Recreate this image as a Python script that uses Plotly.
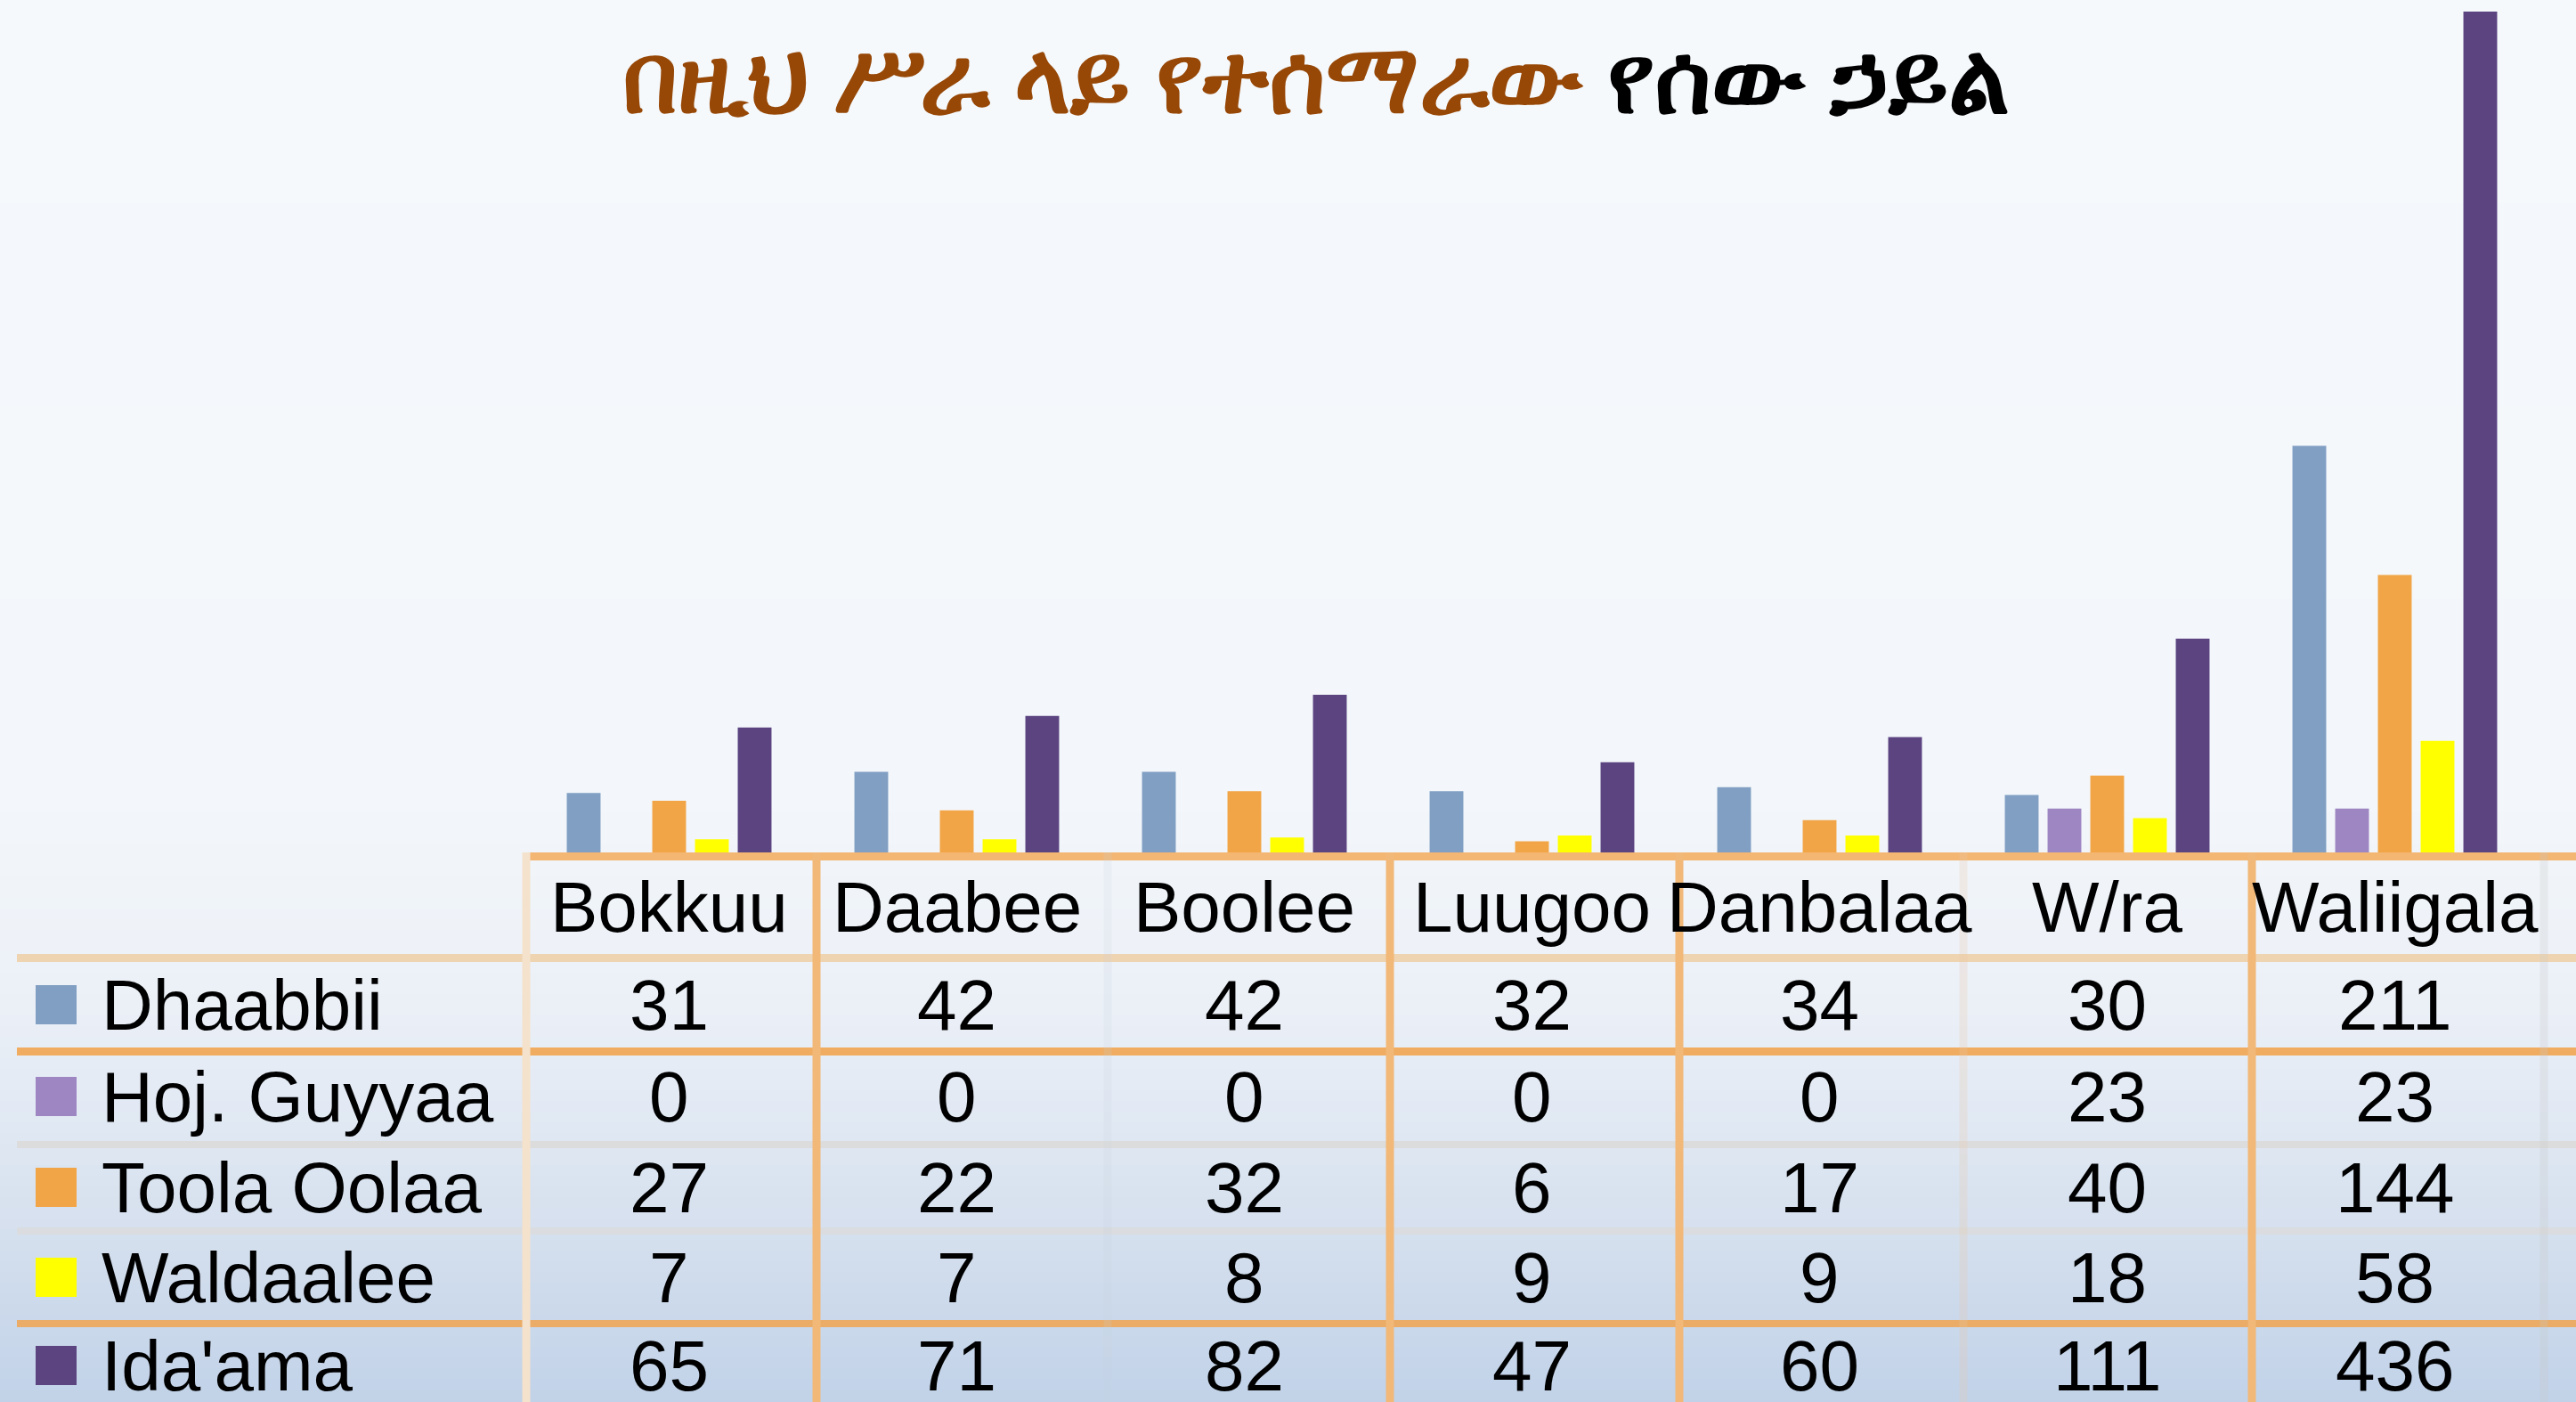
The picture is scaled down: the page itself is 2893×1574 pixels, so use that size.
import plotly.graph_objects as go

# ---------------- data ----------------
categories = ["Bokkuu", "Daabee", "Boolee", "Luugoo", "Danbalaa", "W/ra", "Waliigala"]
series_names = ["Dhaabbii", "Hoj. Guyyaa", "Toola Oolaa", "Waldaalee", "Ida'ama"]
dhaabbii = [31, 42, 42, 32, 34, 30, 211]
hoj_guyyaa = [0, 0, 0, 0, 0, 23, 23]
toola_oolaa = [27, 22, 32, 6, 17, 40, 144]
waldaalee = [7, 7, 8, 9, 9, 18, 58]
idaama = [65, 71, 82, 47, 60, 111, 436]
series_values = [dhaabbii, hoj_guyyaa, toola_oolaa, waldaalee, idaama]
series_colors = ["#819fc3", "#9e86c2", "#f2a546", "#ffff00", "#5c4481"]

title_part1 = "በዚህ ሥራ ላይ የተሰማራው"
title_part2 = "የሰው ኃይል"

# ---------------- geometry (pixels) ----------------
W, H = 2893, 1574
plot_left, plot_right = 590, 2851
baseline = 957.5
px_per_unit = 2.166


def xp(x):
    return x / W


def yp(y):
    return 1 - y / H


fig = go.Figure()
for name, vals, col in zip(series_names, series_values, series_colors):
    fig.add_trace(go.Bar(x=categories, y=vals, name=name, marker=dict(color=col, line=dict(width=0)),
                         showlegend=False))

shapes = []

# background gradient bands
stops = [(0, (245, 249, 252)), (900, (243, 247, 251)), (1000, (240, 244, 249)), (1130, (235, 240, 247)),
         (1230, (227, 234, 244)), (1330, (218, 228, 240)), (1430, (208, 220, 236)), (1574, (193, 210, 232))]


def col_at(y):
    for (y0, c0), (y1, c1) in zip(stops[:-1], stops[1:]):
        if y0 <= y <= y1:
            t = (y - y0) / (y1 - y0)
            return tuple(round(a + (b - a) * t) for a, b in zip(c0, c1))
    return stops[-1][1]


band = 12
y = 0
while y < H:
    c = col_at(y + band / 2)
    shapes.append(dict(type="rect", xref="paper", yref="paper", x0=0, x1=1, y0=yp(min(y + band + 1, H)), y1=yp(y),
                       fillcolor="rgb(%d,%d,%d)" % c, line=dict(width=0), layer="below"))
    y += band

# table lines
orange = "#f0ac60"
hlines = [
    (961.5, 590, W, "#f3b673", 9),
    (1075.5, 19, W, "#efd4b1", 9),
    (1180.5, 19, W, orange, 9),
    (1285, 19, W, "#dcdcdc", 8),
    (1382, 19, W, "#dadcdf", 8),
    (1486, 19, W, "#eaac66", 8),
]
for yy, x0, x1, c, w in hlines:
    shapes.append(dict(type="line", xref="paper", yref="paper", x0=xp(x0), x1=xp(x1), y0=yp(yy), y1=yp(yy),
                       line=dict(color=c, width=w), layer="above"))

vlines = [
    (591, "#f4e2cc"), (917, "#f1b878"), (1244, "rgba(200,208,220,0.18)"), (1561, "#f1b878"),
    (1886, "#f1b878"), (2205, "rgba(230,200,170,0.25)"), (2529, "#f1b878"), (2857, "rgba(200,200,200,0.25)"),
]
for xx, c in vlines:
    shapes.append(dict(type="line", xref="paper", yref="paper", x0=xp(xx), x1=xp(xx), y0=yp(957), y1=0,
                       line=dict(color=c, width=9), layer="above"))

# legend keys & row labels
row_centers = [1128, 1231, 1333, 1434, 1533]
annotations = []
for name, col, yc in zip(series_names, series_colors, row_centers):
    shapes.append(dict(type="rect", xref="paper", yref="paper", x0=xp(40), x1=xp(86), y0=yp(yc + 22), y1=yp(yc - 22),
                       fillcolor=col, line=dict(width=0), layer="above"))
    annotations.append(dict(x=xp(112), y=yp(yc), xref="paper", yref="paper", text=name, showarrow=False,
                            xanchor="left", yanchor="middle", font=dict(size=80, color="#000000")))

# header labels
for cat in categories:
    annotations.append(dict(x=cat, y=yp(1018), xref="x", yref="paper", text=cat, showarrow=False,
                            xanchor="center", yanchor="middle", font=dict(size=80, color="#000000")))

# values
for vals, yc in zip(series_values, row_centers):
    for cat, v in zip(categories, vals):
        annotations.append(dict(x=cat, y=yp(yc), xref="x", yref="paper", text=str(v), showarrow=False,
                                xanchor="center", yanchor="middle", font=dict(size=80, color="#000000")))

fig.update_layout(
    width=W, height=H,
    margin=dict(l=0, r=0, t=0, b=0),
    paper_bgcolor="#f5f9fc",
    plot_bgcolor="rgba(0,0,0,0)",
    barmode="group",
    bargap=0.257,
    bargroupgap=0.21,
    font=dict(family="Liberation Sans, Arial, sans-serif", size=80, color="#000000"),
    title=dict(
        text="<b><span style='color:#974706'>%s</span> %s</b>" % (title_part1, title_part2),
        x=1478 / W, y=yp(88), xanchor="center", yanchor="middle",
        font=dict(size=109, family="Noto Sans, DejaVu Sans, sans-serif", color="#000000"),
    ),
    xaxis=dict(domain=[xp(plot_left), xp(plot_right)], range=[-0.5, 6.5], showticklabels=False,
               showgrid=False, zeroline=False, showline=False, ticks=""),
    yaxis=dict(domain=[yp(baseline), 1], range=[0, baseline / px_per_unit], showticklabels=False,
               showgrid=False, zeroline=False, showline=False, ticks=""),
    shapes=shapes,
    annotations=annotations,
)

fig.write_html("out.html", config={"displayModeBar": False},
               post_script="document.body.style.margin='0';document.body.style.overflow='hidden';")
